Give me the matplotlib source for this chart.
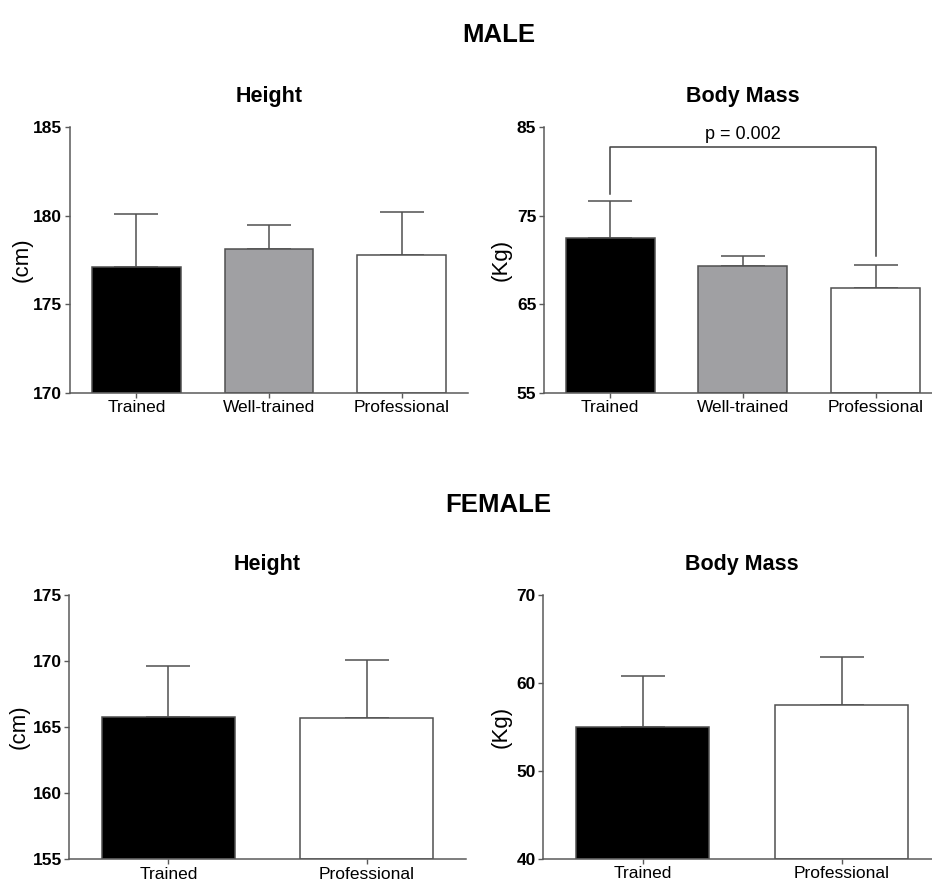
import matplotlib
matplotlib.use("Agg")
import matplotlib.pyplot as plt

plt.rcParams['font.family'] = ['Liberation Sans', 'DejaVu Sans']

# male groups
male_groups = ["Trained", "Well-trained", "Professional"]
male_height = [177.1, 178.1, 177.8]
male_height_sd = [3.0, 1.4, 2.4]
male_mass = [72.5, 69.3, 66.8]
male_mass_sd = [4.2, 1.1, 2.6]

# female groups
female_groups = ["Trained", "Professional"]
female_height = [165.8, 165.7]
female_height_sd = [3.8, 4.4]
female_mass = [55.0, 57.5]
female_mass_sd = [5.8, 5.5]

male_colors = ["black", "#a0a0a3", "white"]
female_colors = ["black", "white"]

AXC = "#5a5a5a"


def bar_panel(ax, groups, vals, sds, colors, ylim, yticks, ylabel, title, labelx):
    x = list(range(len(groups)))
    ax.bar(x, [v - ylim[0] for v in vals], bottom=ylim[0], width=0.67,
           color=colors, edgecolor="#505050", linewidth=1.1, zorder=2)
    ax.errorbar(x, vals, yerr=[[0] * len(sds), sds], fmt="none", ecolor="#505050",
                elinewidth=1.1, capsize=15.5, capthick=1.1, zorder=1)
    ax.set_xlim(-0.5, len(groups) - 0.5)
    ax.set_ylim(*ylim)
    ax.set_yticks(yticks)
    ax.set_xticks(x)
    ax.set_xticklabels(groups, fontsize=12.5)
    for lab in ax.get_yticklabels():
        lab.set_fontweight("bold")
        lab.set_fontsize(12.5)
    ax.spines["top"].set_visible(False)
    ax.spines["right"].set_visible(False)
    for s in ("left", "bottom"):
        ax.spines[s].set_color(AXC)
        ax.spines[s].set_linewidth(1.1)
    ax.tick_params(axis="both", color=AXC, length=3.5, width=1.0, pad=2)
    ax.set_ylabel(ylabel, fontsize=16)
    ax.yaxis.set_label_coords(labelx, 0.5)
    ax.set_title(title, fontsize=15.5, fontweight="bold", pad=18)


fig = plt.figure(figsize=(9.32, 8.83), dpi=100)

ax1 = fig.add_axes([0.0751, 0.5553, 0.4270, 0.3005])
ax2 = fig.add_axes([0.5836, 0.5553, 0.4270, 0.3005])
ax3 = fig.add_axes([0.0744, 0.0268, 0.4253, 0.2994])
ax4 = fig.add_axes([0.5830, 0.0275, 0.4268, 0.2987])

bar_panel(ax1, male_groups, male_height, male_height_sd, male_colors,
          (170, 185), [170, 175, 180, 185], "(cm)", "Height", -0.093)
bar_panel(ax2, male_groups, male_mass, male_mass_sd, male_colors,
          (55, 85), [55, 65, 75, 85], "(Kg)", "Body Mass", -0.080)
bar_panel(ax3, female_groups, female_height, female_height_sd, female_colors,
          (155, 175), [155, 160, 165, 170, 175], "(cm)", "Height", -0.099)
bar_panel(ax4, female_groups, female_mass, female_mass_sd, female_colors,
          (40, 70), [40, 50, 60, 70], "(Kg)", "Body Mass", -0.079)

# significance bracket between Trained and Professional body mass
ax2.plot([0, 0, 2, 2], [77.5, 82.8, 82.8, 70.4], color="#404040", lw=1.1,
         clip_on=False, zorder=3)
ax2.text(1, 83.2, "p = 0.002", ha="center", va="bottom", fontsize=13)

fig.text(0.535, 0.960, "MALE", ha="center", va="center", fontsize=18.5, fontweight="bold")
fig.text(0.535, 0.428, "FEMALE", ha="center", va="center", fontsize=18.5, fontweight="bold")

fig.savefig("out.png", dpi=100)
